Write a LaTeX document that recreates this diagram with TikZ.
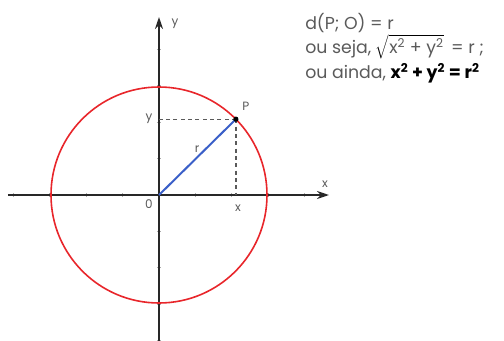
\documentclass[tikz,border=0pt]{standalone}
\usepackage{fontspec}
\setmainfont{Poppins}
\usetikzlibrary{arrows.meta,calc}
\definecolor{CircRed}{RGB}{232,38,43}
\definecolor{CircBlue}{RGB}{58,95,200}
\definecolor{CircGray}{RGB}{90,90,90}
\definecolor{CircAxis}{RGB}{40,40,40}
\tikzset{
  circ/axis/.style={draw=CircAxis, line width=1.3pt, -{Stealth[length=9pt,width=6pt]}},
  circ/tick/.style={draw=CircGray!50, line width=0.6pt},
  circ/curve/.style={draw=CircRed, line width=1.2pt},
  circ/radius/.style={draw=CircBlue, line width=1.5pt},
  circ/guide/.style={draw=CircGray, line width=1pt, dash pattern=on 3pt off 2.5pt},
  circ/label/.style={font=\fontsize{9}{10}\selectfont, text=CircGray, inner sep=1pt},
  circ/formula/.style={font=\fontsize{13}{15}\selectfont, text=CircGray, anchor=base west, inner sep=0pt}
}

\begin{document}
\begin{tikzpicture}[x=0.75pt,y=0.75pt]
  \useasboundingbox (-159,-145) rectangle (345,195);
  % eixos
  \coordinate (O) at (0,0);
  \coordinate (xs) at (-151,0);
  \coordinate (xe) at (170,0);
  \coordinate (ys) at (0,-146);
  \coordinate (ye) at (0,178);
  \foreach \k in {-4,-3,-2,-1,1,2,3,4}{
    \draw[circ/tick] (\k*36.4,-2) -- (\k*36.4,2);
    \draw[circ/tick] (-2,\k*36.4) -- (2,\k*36.4);
  }
  \draw[circ/axis] (xs) -- (xe);
  \draw[circ/axis] (ys) -- (ye);
  \node[circ/label] (xlab) at (166,11) {x};
  \node[circ/label] (ylab) at (16,171) {y};
  \node[circ/label] (olab) at (-10,-9) {0};
  % circunferencia e raio
  \draw[circ/curve] (O) circle (108);
  \coordinate (P) at (44.6:108);
  \coordinate (Px) at (P |- O);
  \coordinate (Py) at (P -| O);
  \draw[circ/guide] (P) -- (Px);
  \draw[circ/guide] (P) -- (Py);
  \draw[circ/radius] (O) -- (P);
  \fill (P) circle (2.6);
  \node[circ/label] (plab) at ($(P)+(10,13)$) {P};
  \node[circ/label] (rlab) at (38,46) {r};
  \node[circ/label] (pxlab) at ($(Px)+(2,-13)$) {x};
  \node[circ/label] (pylab) at ($(Py)+(-10,0)$) {y};
  % formulas
  \node[circ/formula] (f1) at (146,166) {d(P; O) = r};
  \node[circ/formula] (f2) at (146,142) {ou seja, \textcolor{black}{$\sqrt{\hbox{\color{CircGray}x\textsuperscript{2} + y\textsuperscript{2}}}$}\, = r ;};
  \node[circ/formula] (f3) at (146,117) {ou ainda, \textcolor{black}{\bfseries x\textsuperscript{2} + y\textsuperscript{2} = r\textsuperscript{2}}};
\end{tikzpicture}
\end{document}
